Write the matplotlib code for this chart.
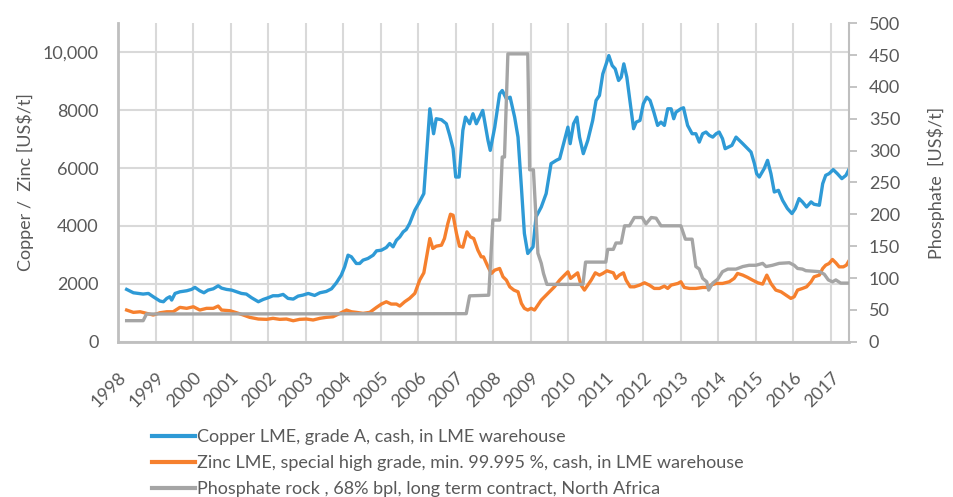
import matplotlib
matplotlib.use("Agg")
import matplotlib.pyplot as plt
from matplotlib.lines import Line2D

plt.rcParams['font.family'] = ['Lato', 'DejaVu Sans']

# ---------------- data (decimal year, value) ----------------
copper_t = [1998.23, 1998.41, 1998.67, 1998.81, 1998.94, 1999.12, 1999.21, 1999.30, 1999.38, 1999.43,
            1999.52, 1999.65, 1999.83, 1999.96, 2000.05, 2000.18, 2000.29, 2000.40, 2000.54, 2000.67,
            2000.76, 2000.89, 2001.03, 2001.16, 2001.29, 2001.42, 2001.56, 2001.74, 2001.87, 2002.00,
            2002.13, 2002.27, 2002.40, 2002.53, 2002.67, 2002.80, 2002.93, 2003.07, 2003.24, 2003.38,
            2003.55, 2003.69, 2003.82, 2003.95, 2004.04, 2004.13, 2004.22, 2004.35, 2004.44, 2004.53,
            2004.66, 2004.80, 2004.89, 2005.02, 2005.15, 2005.24, 2005.33, 2005.42, 2005.51, 2005.60,
            2005.68, 2005.77, 2005.91, 2006.02, 2006.15, 2006.31, 2006.41, 2006.48, 2006.62, 2006.75,
            2006.84, 2006.93, 2007.00, 2007.09, 2007.19, 2007.26, 2007.37, 2007.46, 2007.55, 2007.72,
            2007.86, 2007.92, 2008.04, 2008.17, 2008.24, 2008.35, 2008.45, 2008.57, 2008.66, 2008.75,
            2008.83, 2008.92, 2009.06, 2009.14, 2009.28, 2009.41, 2009.54, 2009.68, 2009.77, 2009.85,
            2009.99, 2010.05, 2010.14, 2010.23, 2010.30, 2010.40, 2010.52, 2010.65, 2010.74, 2010.83,
            2010.92, 2011.01, 2011.08, 2011.17, 2011.25, 2011.34, 2011.41, 2011.48, 2011.56, 2011.63,
            2011.74, 2011.81, 2011.91, 2012.00, 2012.09, 2012.18, 2012.28, 2012.38, 2012.47, 2012.56,
            2012.65, 2012.74, 2012.81, 2012.87, 2013.00, 2013.07, 2013.18, 2013.30, 2013.40, 2013.49,
            2013.58, 2013.67, 2013.76, 2013.85, 2013.94, 2014.02, 2014.11, 2014.18, 2014.27, 2014.36,
            2014.47, 2014.56, 2014.65, 2014.78, 2014.87, 2014.96, 2015.02, 2015.09, 2015.22, 2015.31,
            2015.40, 2015.49, 2015.60, 2015.71, 2015.84, 2015.96, 2016.05, 2016.15, 2016.24, 2016.35,
            2016.47, 2016.55, 2016.69, 2016.78, 2016.86, 2016.95, 2017.06, 2017.17, 2017.29, 2017.40,
            2017.49]
copper_v = [1807, 1690, 1645, 1667, 1552, 1403, 1380, 1496, 1552, 1437,
            1667, 1724, 1759, 1807, 1876, 1759, 1690, 1782, 1828, 1931,
            1851, 1807, 1782, 1724, 1667, 1645, 1518, 1380, 1460, 1518,
            1587, 1587, 1633, 1496, 1472, 1575, 1610, 1667, 1598, 1690,
            1736, 1828, 2035, 2300, 2587, 2989, 2932, 2702, 2702, 2817,
            2875, 2989, 3139, 3162, 3254, 3392, 3277, 3506, 3621, 3794,
            3874, 4081, 4541, 4794, 5116, 8047, 7185, 7703, 7668, 7530,
            7127, 6668, 5689, 5689, 7300, 7758, 7530, 7875, 7530, 7989,
            6955, 6610, 7413, 8565, 8679, 8392, 8447, 7758, 7068, 5344,
            3738, 3048, 3276, 4310, 4655, 5117, 6151, 6265, 6323, 6724,
            7413, 6841, 7530, 7758, 7068, 6496, 6955, 7644, 8334, 8507,
            9254, 9599, 9885, 9541, 9426, 9024, 9139, 9599, 9139, 8447,
            7358, 7586, 7644, 8220, 8447, 8334, 7930, 7472, 7586, 7472,
            8047, 8047, 7703, 7930, 8047, 8082, 7472, 7185, 7185, 6896,
            7185, 7243, 7127, 7068, 7185, 7243, 7013, 6668, 6724, 6783,
            7068, 6955, 6841, 6668, 6551, 6151, 5806, 5689, 5979, 6265,
            5806, 5172, 5229, 4886, 4600, 4427, 4600, 4944, 4829, 4655,
            4829, 4747, 4714, 5461, 5748, 5806, 5944, 5806, 5634, 5748,
            5979]

zinc_t = [1998.23, 1998.41, 1998.59, 1998.76, 1998.94, 1999.12, 1999.30, 1999.47, 1999.65, 1999.83,
          2000.01, 2000.18, 2000.36, 2000.54, 2000.67, 2000.76, 2000.98, 2001.16, 2001.34, 2001.51,
          2001.74, 2001.96, 2002.13, 2002.31, 2002.49, 2002.67, 2002.84, 2003.02, 2003.20, 2003.38,
          2003.55, 2003.73, 2003.91, 2004.09, 2004.22, 2004.35, 2004.53, 2004.71, 2004.89, 2005.02,
          2005.15, 2005.28, 2005.42, 2005.51, 2005.64, 2005.77, 2005.91, 2006.04, 2006.15, 2006.31,
          2006.39, 2006.48, 2006.62, 2006.70, 2006.79, 2006.86, 2006.93, 2007.02, 2007.10, 2007.19,
          2007.30, 2007.39, 2007.48, 2007.59, 2007.68, 2007.74, 2007.86, 2007.95, 2008.04, 2008.17,
          2008.26, 2008.35, 2008.44, 2008.55, 2008.66, 2008.75, 2008.83, 2008.92, 2009.01, 2009.10,
          2009.19, 2009.28, 2009.41, 2009.54, 2009.63, 2009.77, 2009.90, 2009.99, 2010.06, 2010.17,
          2010.25, 2010.34, 2010.43, 2010.52, 2010.61, 2010.72, 2010.83, 2010.92, 2011.03, 2011.11,
          2011.20, 2011.27, 2011.36, 2011.47, 2011.54, 2011.65, 2011.76, 2011.90, 2012.03, 2012.16,
          2012.29, 2012.43, 2012.56, 2012.65, 2012.74, 2012.92, 2013.00, 2013.09, 2013.23, 2013.40,
          2013.58, 2013.71, 2013.80, 2013.94, 2014.11, 2014.29, 2014.42, 2014.51, 2014.65, 2014.78,
          2014.91, 2015.05, 2015.18, 2015.29, 2015.40, 2015.53, 2015.67, 2015.80, 2015.93, 2016.02,
          2016.11, 2016.24, 2016.35, 2016.47, 2016.55, 2016.69, 2016.78, 2016.86, 2016.95, 2017.04,
          2017.13, 2017.22, 2017.33, 2017.41, 2017.49]
zinc_v = [1093, 1013, 1034, 979, 921, 1000, 1034, 1034, 1186, 1152,
          1207, 1093, 1152, 1152, 1231, 1093, 1070, 1000, 921, 841,
          783, 772, 807, 772, 783, 724, 772, 783, 750, 807,
          841, 862, 979, 1093, 1034, 1013, 979, 1013, 1186, 1300,
          1379, 1300, 1300, 1231, 1379, 1496, 1669, 2127, 2379, 3565,
          3220, 3300, 3334, 3565, 4082, 4403, 4369, 3738, 3300, 3266,
          3793, 3620, 3565, 3162, 2931, 2931, 2586, 2358, 2472, 2529,
          2241, 2127, 1896, 1783, 1724, 1324, 1152, 1093, 1152, 1093,
          1265, 1438, 1610, 1783, 1896, 2127, 2300, 2414, 2186, 2300,
          2379, 1955, 1783, 1955, 2127, 2379, 2300, 2358, 2448, 2414,
          2379, 2186, 2300, 2379, 2127, 1896, 1896, 1955, 2035, 1955,
          1840, 1840, 1920, 1840, 1955, 2012, 2070, 1874, 1840, 1840,
          1874, 1874, 1955, 2012, 2012, 2070, 2186, 2358, 2300, 2220,
          2127, 2035, 1990, 2300, 2012, 1783, 1724, 1610, 1496, 1552,
          1783, 1840, 1896, 2070, 2241, 2300, 2529, 2644, 2702, 2840,
          2725, 2586, 2586, 2644, 2817]

phosphate_t = [1998.23, 1998.67, 1998.76, 2007.28, 2007.37, 2007.88, 2007.99, 2008.17, 2008.24, 2008.30,
               2008.39, 2008.92, 2008.97, 2009.07, 2009.19, 2009.28, 2009.34, 2009.43, 2010.39, 2010.46,
               2011.00, 2011.05, 2011.20, 2011.27, 2011.41, 2011.50, 2011.63, 2011.76, 2011.97, 2012.07,
               2012.21, 2012.34, 2012.47, 2013.00, 2013.12, 2013.30, 2013.40, 2013.49, 2013.58, 2013.69,
               2013.74, 2013.85, 2013.98, 2014.11, 2014.25, 2014.47, 2014.65, 2014.82, 2015.00, 2015.18,
               2015.27, 2015.44, 2015.62, 2015.89, 2016.02, 2016.11, 2016.24, 2016.33, 2016.69, 2016.82,
               2016.93, 2017.04, 2017.13, 2017.26, 2017.49]
phosphate_v = [33, 33, 43.5, 44, 72, 73, 191, 191, 290, 290,
               452, 452, 270, 270, 139, 123, 107, 90, 90, 125,
               125, 145, 145, 155, 155, 182, 182, 195, 195, 185,
               195, 194, 182, 182, 161, 161, 118, 114, 99.5, 94,
               81, 92, 98, 110, 114, 114, 118, 120, 120, 123,
               118, 120, 123, 124, 120, 115, 114, 111.5, 110, 106,
               97, 94, 97, 92, 92]

years = list(range(1998, 2018))
left_ticks = [0, 2000, 4000, 6000, 8000, 10000]
left_labels = ["0", "2000", "4000", "6000", "8000", "10,000"]
right_ticks = [0, 50, 100, 150, 200, 250, 300, 350, 400, 450, 500]

labels = ["Copper LME, grade A, cash, in LME warehouse",
          "Zinc LME, special high grade, min. 99.995 %, cash, in LME warehouse",
          "Phosphate rock , 68% bpl, long term contract, North Africa"]

# ---------------- styling ----------------
C_BLUE = '#2E9AD6'
C_ORANGE = '#F6802E'
C_GRAY = '#A5A5A5'
TXT = '#595959'
GRID = '#D9D9D9'
SPINE = '#BFBFBF'
FS = 13

fig = plt.figure(figsize=(9.54, 4.97), dpi=100)
ax = fig.add_axes([0.1237, 0.3125, 0.7666, 0.6406])
ax2 = ax.twinx()

ax.plot(copper_t, copper_v, color=C_BLUE, lw=2.4, solid_joinstyle='round', zorder=3)
ax.plot(zinc_t, zinc_v, color=C_ORANGE, lw=2.4, solid_joinstyle='round', zorder=3)
ax2.plot(phosphate_t, phosphate_v, color=C_GRAY, lw=2.4, solid_joinstyle='round', zorder=3)

ax.set_xlim(1998.0, 2017.49)
ax.set_ylim(0, 11000)
ax2.set_ylim(0, 500)

ax.set_xticks(years)
ax.set_xticklabels([str(y) for y in years], rotation=45, ha='right', va='top',
                   rotation_mode='anchor', fontsize=FS, color=TXT)

ax.set_yticks(left_ticks)
ax.set_yticklabels(left_labels, fontsize=FS, color=TXT)
ax2.set_yticks(right_ticks)
ax2.set_yticklabels([str(v) for v in right_ticks], fontsize=FS, color=TXT)

ax.tick_params(axis='x', length=0, pad=20)
ax.tick_params(axis='y', length=0, pad=14)
ax2.tick_params(axis='y', length=6, width=1.3, color=SPINE, direction='out', pad=8)

ax.grid(True, color=GRID, lw=1.5, zorder=0)
ax.set_axisbelow(True)

for a in (ax, ax2):
    a.spines['top'].set_visible(False)
ax2.spines['left'].set_visible(False)
ax2.spines['bottom'].set_visible(False)
ax.spines['right'].set_visible(False)
ax.spines['left'].set_color(SPINE)
ax.spines['left'].set_linewidth(2)
ax.spines['bottom'].set_color(SPINE)
ax.spines['bottom'].set_linewidth(2)
ax2.spines['right'].set_color(SPINE)
ax2.spines['right'].set_linewidth(1.5)

ax.set_ylabel("Copper /  Zinc [US$/t]", fontsize=FS, color=TXT, labelpad=6)
ax2.set_ylabel("Phosphate  [US$/t]", fontsize=FS, color=TXT, labelpad=20)

handles = [Line2D([], [], color=c, lw=3) for c in (C_BLUE, C_ORANGE, C_GRAY)]
fig.legend(handles, labels, loc='upper left', bbox_to_anchor=(0.159, 0.137),
           frameon=False, fontsize=13, handlelength=2.4, handletextpad=0.12,
           labelspacing=0.56, borderpad=0, borderaxespad=0, labelcolor=TXT)

fig.savefig("out.png", dpi=100, facecolor='white')
